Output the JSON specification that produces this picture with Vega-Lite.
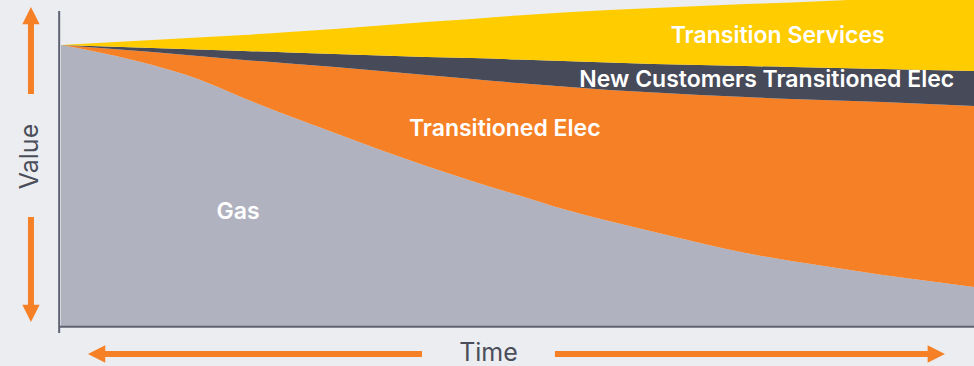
{
  "$schema": "https://vega.github.io/schema/vega-lite/v6.json",
  "width": 913,
  "height": 326,
  "autosize": {"type": "none"},
  "padding": {"left": 61, "top": 0, "right": 0, "bottom": 40},
  "background": "#ecedf0",
  "config": {"view": {"stroke": null}, "font": "Inter"},
  "datasets": {
    "areas": [
      {"t": 0, "series": "Gas", "value": 281}, {"t": 5, "series": "Gas", "value": 272}, {"t": 10, "series": "Gas", "value": 261}, {"t": 15, "series": "Gas", "value": 247}, {"t": 20, "series": "Gas", "value": 228}, {"t": 25, "series": "Gas", "value": 210}, {"t": 30, "series": "Gas", "value": 193}, {"t": 35, "series": "Gas", "value": 176}, {"t": 40, "series": "Gas", "value": 160}, {"t": 45, "series": "Gas", "value": 145}, {"t": 50, "series": "Gas", "value": 131}, {"t": 55, "series": "Gas", "value": 117}, {"t": 60, "series": "Gas", "value": 105}, {"t": 65, "series": "Gas", "value": 94}, {"t": 70, "series": "Gas", "value": 83}, {"t": 75, "series": "Gas", "value": 73}, {"t": 80, "series": "Gas", "value": 65}, {"t": 85, "series": "Gas", "value": 58}, {"t": 90, "series": "Gas", "value": 51}, {"t": 95, "series": "Gas", "value": 45}, {"t": 100, "series": "Gas", "value": 39},
      {"t": 0, "series": "Transitioned Elec", "value": 0}, {"t": 5, "series": "Transitioned Elec", "value": 5.5}, {"t": 10, "series": "Transitioned Elec", "value": 13}, {"t": 15, "series": "Transitioned Elec", "value": 23}, {"t": 20, "series": "Transitioned Elec", "value": 38}, {"t": 25, "series": "Transitioned Elec", "value": 52.5}, {"t": 30, "series": "Transitioned Elec", "value": 66}, {"t": 35, "series": "Transitioned Elec", "value": 79}, {"t": 40, "series": "Transitioned Elec", "value": 91}, {"t": 45, "series": "Transitioned Elec", "value": 102}, {"t": 50, "series": "Transitioned Elec", "value": 112}, {"t": 55, "series": "Transitioned Elec", "value": 122.5}, {"t": 60, "series": "Transitioned Elec", "value": 131}, {"t": 65, "series": "Transitioned Elec", "value": 139.5}, {"t": 70, "series": "Transitioned Elec", "value": 148}, {"t": 75, "series": "Transitioned Elec", "value": 156}, {"t": 80, "series": "Transitioned Elec", "value": 162}, {"t": 85, "series": "Transitioned Elec", "value": 167.5}, {"t": 90, "series": "Transitioned Elec", "value": 173}, {"t": 95, "series": "Transitioned Elec", "value": 177}, {"t": 100, "series": "Transitioned Elec", "value": 181},
      {"t": 0, "series": "New Customers Transitioned Elec", "value": 0}, {"t": 5, "series": "New Customers Transitioned Elec", "value": 2}, {"t": 10, "series": "New Customers Transitioned Elec", "value": 4}, {"t": 15, "series": "New Customers Transitioned Elec", "value": 6.5}, {"t": 20, "series": "New Customers Transitioned Elec", "value": 9}, {"t": 25, "series": "New Customers Transitioned Elec", "value": 11}, {"t": 30, "series": "New Customers Transitioned Elec", "value": 13}, {"t": 35, "series": "New Customers Transitioned Elec", "value": 15.5}, {"t": 40, "series": "New Customers Transitioned Elec", "value": 18}, {"t": 45, "series": "New Customers Transitioned Elec", "value": 21}, {"t": 50, "series": "New Customers Transitioned Elec", "value": 23.5}, {"t": 55, "series": "New Customers Transitioned Elec", "value": 25.5}, {"t": 60, "series": "New Customers Transitioned Elec", "value": 27.5}, {"t": 65, "series": "New Customers Transitioned Elec", "value": 28.5}, {"t": 70, "series": "New Customers Transitioned Elec", "value": 30}, {"t": 75, "series": "New Customers Transitioned Elec", "value": 31}, {"t": 80, "series": "New Customers Transitioned Elec", "value": 32}, {"t": 85, "series": "New Customers Transitioned Elec", "value": 32.5}, {"t": 90, "series": "New Customers Transitioned Elec", "value": 33}, {"t": 95, "series": "New Customers Transitioned Elec", "value": 34}, {"t": 100, "series": "New Customers Transitioned Elec", "value": 35},
      {"t": 0, "series": "Transition Services", "value": 0}, {"t": 5, "series": "Transition Services", "value": 4}, {"t": 10, "series": "Transition Services", "value": 8}, {"t": 15, "series": "Transition Services", "value": 12}, {"t": 20, "series": "Transition Services", "value": 16}, {"t": 25, "series": "Transition Services", "value": 20.5}, {"t": 30, "series": "Transition Services", "value": 25}, {"t": 35, "series": "Transition Services", "value": 30}, {"t": 40, "series": "Transition Services", "value": 35}, {"t": 45, "series": "Transition Services", "value": 39}, {"t": 50, "series": "Transition Services", "value": 44}, {"t": 55, "series": "Transition Services", "value": 48.5}, {"t": 60, "series": "Transition Services", "value": 52.5}, {"t": 65, "series": "Transition Services", "value": 56}, {"t": 70, "series": "Transition Services", "value": 59}, {"t": 75, "series": "Transition Services", "value": 62}, {"t": 80, "series": "Transition Services", "value": 64.5}, {"t": 85, "series": "Transition Services", "value": 67.5}, {"t": 90, "series": "Transition Services", "value": 70.5}, {"t": 95, "series": "Transition Services", "value": 73}, {"t": 100, "series": "Transition Services", "value": 76}
    ],
    "labels": [
      {"t": 78.5, "v": 290, "label": "Transition Services"},
      {"t": 77.3, "v": 246, "label": "New Customers Transitioned Elec"},
      {"t": 48.6, "v": 197, "label": "Transitioned Elec"},
      {"t": 19.4, "v": 114, "label": "Gas"}
    ],
    "axislines": [
      {"t": -0.2, "v": -7, "t2": -0.2, "v2": 315},
      {"t": -0.2, "v": -0.8, "t2": 100, "v2": -0.8}
    ],
    "shafts": [
      {"t": -3.29, "v": 232, "t2": -3.29, "v2": 303},
      {"t": -3.29, "v": 109, "t2": -3.29, "v2": 20},
      {"t": 4.8, "v": -28, "t2": 39.54, "v2": -28},
      {"t": 54.1, "v": -28, "t2": 95.0, "v2": -28}
    ],
    "heads": [
      {"t": -3.29, "v": 310.3, "dir": "up"},
      {"t": -3.29, "v": 12.7, "dir": "down"},
      {"t": 3.9, "v": -28, "dir": "left"},
      {"t": 95.87, "v": -28, "dir": "right"}
    ]
  },
  "layer": [
    {
      "data": {"name": "areas"},
      "transform": [
        {"calculate": "indexof(['Gas', 'Transitioned Elec', 'New Customers Transitioned Elec', 'Transition Services'], datum.series)", "as": "stackOrder"}
      ],
      "mark": {"type": "area", "interpolate": "monotone"},
      "encoding": {
        "x": {"field": "t", "type": "quantitative", "scale": {"domain": [0, 100], "nice": false, "zero": false},
              "axis": {"title": "Time", "domain": false, "ticks": false, "labels": false, "grid": false, "titleFontSize": 25, "titleFontWeight": "normal", "titleColor": "#4a4d5a", "titlePadding": 14, "titleX": 427, "titleFont": "Inter"}},
        "y": {"field": "value", "type": "quantitative", "stack": "zero", "scale": {"domain": [0, 326], "nice": false},
              "axis": {"title": "Value", "domain": false, "ticks": false, "labels": false, "grid": false, "titleFontSize": 25, "titleFontWeight": "normal", "titleColor": "#4a4d5a", "titlePadding": 19, "titleY": 156, "titleFont": "Inter"}},
        "color": {"field": "series", "type": "nominal",
                  "scale": {"domain": ["Gas", "Transitioned Elec", "New Customers Transitioned Elec", "Transition Services"], "range": ["#b0b2bf", "#f58025", "#474a59", "#ffcc00"]},
                  "legend": null},
        "order": {"field": "stackOrder", "type": "quantitative", "sort": "ascending"}
      }
    },
    {
      "data": {"name": "labels"},
      "mark": {"type": "text", "color": "white", "fontWeight": 600, "fontSize": 23, "font": "Inter", "align": "center", "baseline": "middle"},
      "encoding": {
        "x": {"field": "t", "type": "quantitative"},
        "y": {"field": "v", "type": "quantitative"},
        "text": {"field": "label"}
      }
    },
    {
      "data": {"name": "axislines"},
      "mark": {"type": "rule", "color": "#5f6272", "strokeWidth": 2},
      "encoding": {
        "x": {"field": "t", "type": "quantitative"},
        "y": {"field": "v", "type": "quantitative"},
        "x2": {"field": "t2"},
        "y2": {"field": "v2"}
      }
    },
    {
      "data": {"name": "shafts"},
      "mark": {"type": "rule", "color": "#f58025", "strokeWidth": 6, "strokeCap": "butt"},
      "encoding": {
        "x": {"field": "t", "type": "quantitative"},
        "y": {"field": "v", "type": "quantitative"},
        "x2": {"field": "t2"},
        "y2": {"field": "v2"}
      }
    },
    {
      "data": {"name": "heads"},
      "mark": {"type": "point", "filled": true, "color": "#f58025", "size": 300, "opacity": 1},
      "encoding": {
        "x": {"field": "t", "type": "quantitative"},
        "y": {"field": "v", "type": "quantitative"},
        "shape": {"field": "dir", "type": "nominal", "legend": null,
                  "scale": {"domain": ["up", "down", "left", "right"], "range": ["M0,-1L1,1L-1,1Z", "M0,1L1,-1L-1,-1Z", "M-1,0L1,-1L1,1Z", "M1,0L-1,-1L-1,1Z"]}}
      }
    }
  ]
}
